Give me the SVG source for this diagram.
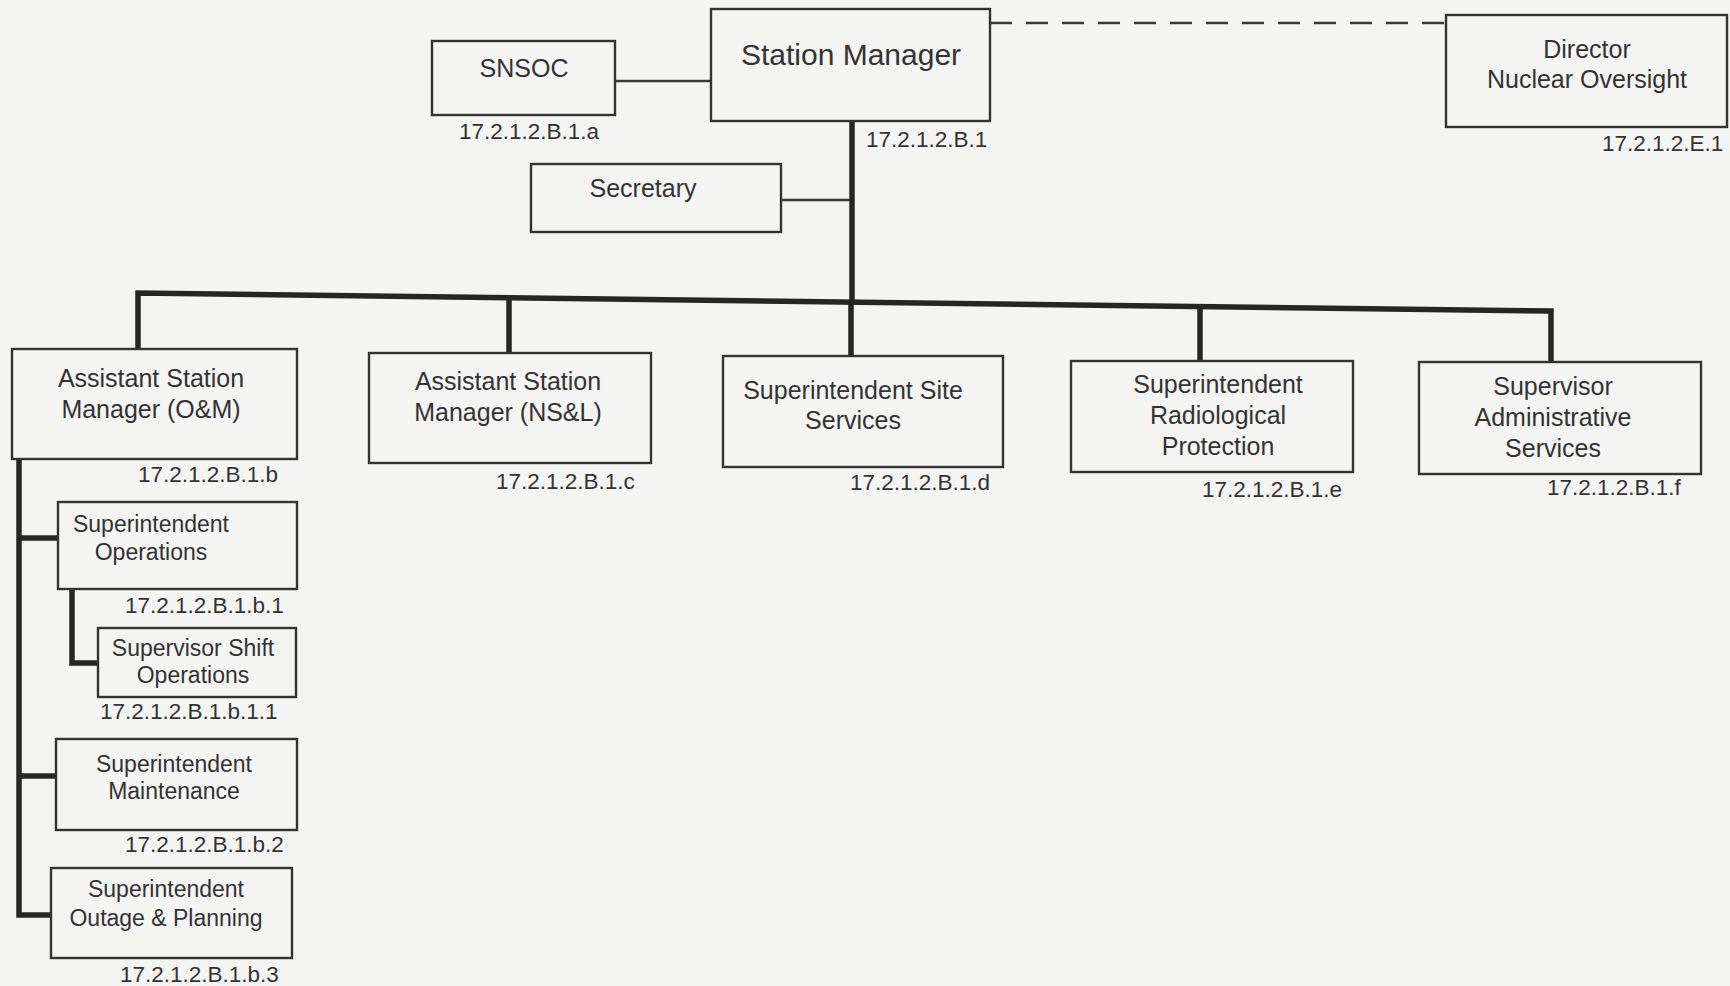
<svg xmlns="http://www.w3.org/2000/svg" width="1730" height="986" viewBox="0 0 1730 986">
<style>
.box{fill:none;stroke:#333;stroke-width:2.4}
.t{font-family:"Liberation Sans",Arial,sans-serif;font-size:25px;fill:#333;text-anchor:middle}
.ts{font-family:"Liberation Sans",Arial,sans-serif;font-size:23px;fill:#333;text-anchor:middle}
.lb{font-family:"Liberation Sans",Arial,sans-serif;font-size:22.5px;fill:#333}
.thick{fill:none;stroke:#262626;stroke-width:5.5;stroke-linejoin:miter}
.thin{fill:none;stroke:#3a3a3a;stroke-width:2.5}
</style>
<rect width="1730" height="986" fill="#f4f4f3"/>
<g id="connectors">
<line class="thin" x1="615" y1="81" x2="711" y2="81"/>
<line class="thin" x1="990" y1="23" x2="1446" y2="23" stroke-dasharray="22,14"/>
<line class="thin" x1="781" y1="200" x2="852" y2="200"/>
<line class="thick" x1="852" y1="121" x2="852" y2="302"/>
<polyline class="thick" points="138,349 138,293 1551,311 1551,362"/>
<line class="thick" x1="509" y1="298" x2="509" y2="353"/>
<line class="thick" x1="851" y1="302" x2="851" y2="356"/>
<line class="thick" x1="1200" y1="306" x2="1200" y2="361"/>
<polyline class="thick" points="19,459 19,915 51,915"/>
<line class="thick" x1="19" y1="538" x2="58" y2="538"/>
<polyline class="thick" points="72,589 72,663 98,663"/>
<line class="thick" x1="19" y1="776" x2="56" y2="776"/>
</g>
<g id="snsoc"><rect class="box" x="432" y="41" width="183" height="74"/><text class="t" x="524" y="77">SNSOC</text><text class="lb" x="459" y="139">17.2.1.2.B.1.a</text></g>
<g id="station-manager"><rect class="box" x="711" y="9" width="279" height="112"/><text class="t" x="851" y="65" style="font-size:30px">Station Manager</text><text class="lb" x="866" y="147">17.2.1.2.B.1</text></g>
<g id="director"><rect class="box" x="1446" y="15" width="281" height="112"/><text class="t" x="1587" y="58">Director</text><text class="t" x="1587" y="88">Nuclear Oversight</text><text class="lb" x="1602" y="151">17.2.1.2.E.1</text></g>
<g id="secretary"><rect class="box" x="531" y="164" width="250" height="68"/><text class="t" x="643" y="197">Secretary</text></g>
<g id="asm-om"><rect class="box" x="12" y="349" width="285" height="110"/><text class="t" x="151" y="387">Assistant Station</text><text class="t" x="151" y="418">Manager (O&amp;M)</text><text class="lb" x="138" y="482">17.2.1.2.B.1.b</text></g>
<g id="asm-nsl"><rect class="box" x="369" y="353" width="282" height="110"/><text class="t" x="508" y="390">Assistant Station</text><text class="t" x="508" y="421">Manager (NS&amp;L)</text><text class="lb" x="496" y="489">17.2.1.2.B.1.c</text></g>
<g id="site-services"><rect class="box" x="723" y="356" width="280" height="111"/><text class="t" x="853" y="399">Superintendent Site</text><text class="t" x="853" y="429">Services</text><text class="lb" x="850" y="490">17.2.1.2.B.1.d</text></g>
<g id="rad-protection"><rect class="box" x="1071" y="361" width="282" height="111"/><text class="t" x="1218" y="393">Superintendent</text><text class="t" x="1218" y="424">Radiological</text><text class="t" x="1218" y="455">Protection</text><text class="lb" x="1202" y="497">17.2.1.2.B.1.e</text></g>
<g id="admin-services"><rect class="box" x="1419" y="362" width="282" height="112"/><text class="t" x="1553" y="395">Supervisor</text><text class="t" x="1553" y="426">Administrative</text><text class="t" x="1553" y="457">Services</text><text class="lb" x="1547" y="495">17.2.1.2.B.1.f</text></g>
<g id="operations"><rect class="box" x="58" y="502" width="239" height="87"/><text class="ts" x="151" y="532">Superintendent</text><text class="ts" x="151" y="560">Operations</text><text class="lb" x="125" y="613">17.2.1.2.B.1.b.1</text></g>
<g id="shift-operations"><rect class="box" x="98" y="628" width="198" height="69"/><text class="ts" x="193" y="656">Supervisor Shift</text><text class="ts" x="193" y="683">Operations</text><text class="lb" x="100" y="719">17.2.1.2.B.1.b.1.1</text></g>
<g id="maintenance"><rect class="box" x="56" y="739" width="241" height="91"/><text class="ts" x="174" y="772">Superintendent</text><text class="ts" x="174" y="799">Maintenance</text><text class="lb" x="125" y="852">17.2.1.2.B.1.b.2</text></g>
<g id="outage-planning"><rect class="box" x="51" y="868" width="241" height="90"/><text class="ts" x="166" y="897">Superintendent</text><text class="ts" x="166" y="926">Outage &amp; Planning</text><text class="lb" x="120" y="982">17.2.1.2.B.1.b.3</text></g>
</svg>
